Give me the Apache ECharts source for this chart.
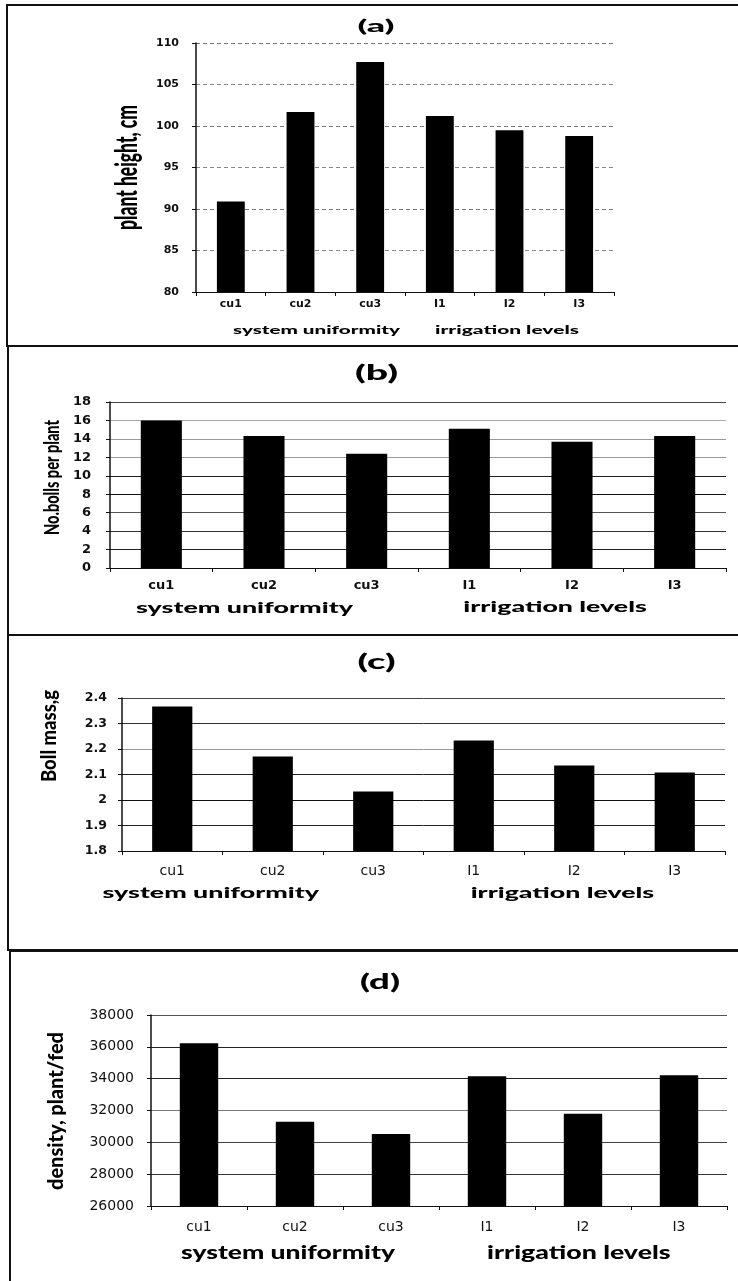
<!DOCTYPE html>
<html>
<head>
<meta charset="utf-8">
<script src="https://cdn.jsdelivr.net/npm/echarts@6/dist/echarts.min.js"></script>
<style>
html,body{margin:0;padding:0;background:#fff;}
#chart{width:738px;height:1281px;}
</style>
</head>
<body>
<div id="chart"></div>
<script>
// ---------------- data ----------------
const categories = ['cu1', 'cu2', 'cu3', 'I1', 'I2', 'I3'];
const plantHeight = [90.9, 101.7, 107.7, 101.2, 99.5, 98.8];
const bollsPerPlant = [16.0, 14.3, 12.4, 15.1, 13.7, 14.3];
const bollMass = [2.367, 2.171, 2.033, 2.233, 2.135, 2.108];
const plantDensity = [36220, 31300, 30520, 34150, 31800, 34210];

const ticksA = [80, 85, 90, 95, 100, 105, 110];
const ticksB = [0, 2, 4, 6, 8, 10, 12, 14, 16, 18];
const ticksC = [1.8, 1.9, 2.0, 2.1, 2.2, 2.3, 2.4];
const ticksD = [26000, 28000, 30000, 32000, 34000, 36000, 38000];

const panelTitles = ['(a)', '(b)', '(c)', '(d)'];
const yNames = ['plant height, cm', 'No.bolls per plant', 'Boll mass,g', 'density, plant/fed'];
const groupNames = ['system uniformity', 'irrigation levels'];

// ---------------- layout ----------------
const grids = [
  {left: 196, top: 43, width: 418, height: 249},
  {left: 110, top: 402, width: 616, height: 166},
  {left: 122, top: 698, width: 603, height: 153},
  {left: 151, top: 1015, width: 576, height: 191}
];
const yLabelStyle = [
  {fontFamily: 'DejaVu Sans', fontWeight: 'bold', fontSize: 11, margin: 17},
  {fontFamily: 'DejaVu Sans', fontWeight: 'bold', fontSize: 13, margin: 19},
  {fontFamily: 'DejaVu Sans', fontWeight: 'bold', fontSize: 12.5, margin: 15},
  {fontFamily: 'DejaVu Sans', fontWeight: 'normal', fontSize: 14, margin: 17}
];
const xLabelStyle = [
  {fontFamily: 'DejaVu Sans', fontWeight: 'bold', fontSize: 11, margin: 7},
  {fontFamily: 'DejaVu Sans', fontWeight: 'bold', fontSize: 13, margin: 11},
  {fontFamily: 'DejaVu Sans', fontWeight: 'normal', fontSize: 14, margin: 13},
  {fontFamily: 'DejaVu Sans', fontWeight: 'normal', fontSize: 14, margin: 14}
];
const splitColors = [
  ['#888', '#888', '#777', '#888', '#777', '#888', '#777'],
  ['#222', '#222', '#333', '#555', '#111', '#222', '#999', '#999', '#aaa', '#444'],
  ['#555', '#222', '#111', '#222', '#999', '#333', '#444'],
  ['#444', '#333', '#444', '#777', '#222', '#222', '#555']
];
const splitTypes = [[4, 3], 'solid', 'solid', 'solid'];

const tickSets = [ticksA, ticksB, ticksC, ticksD];
const seriesData = [plantHeight, bollsPerPlant, bollMass, plantDensity];

// text fitting helper (layout only)
const mctx = document.createElement('canvas').getContext('2d');
function fitScale(text, size, family, weight, target) {
  mctx.font = weight + ' ' + size + 'px ' + family;
  return target / mctx.measureText(text).width;
}
function txt(text, cx, cy, size, target, opts) {
  opts = opts || {};
  const family = opts.family || 'Lato';
  const weight = opts.weight || '900';
  const el = {
    type: 'text', x: cx, y: cy, z: 10,
    scaleX: fitScale(text, size, family, weight, target),
    style: {
      text: text, fontSize: size, fontFamily: family, fontWeight: weight, fill: '#000',
      align: 'center', verticalAlign: 'middle', textAlign: 'center', textVerticalAlign: 'middle'
    }
  };
  if (opts.vertical) el.rotation = Math.PI / 2;
  return el;
}

// panel frames
const frames = [
  {y: 5, h: 341, x: 7},
  {y: 346, h: 289, x: 8},
  {y: 635, h: 315, x: 8},
  {y: 951, h: 360, x: 10}
];
const graphic = [];
frames.forEach(f => graphic.push({
  type: 'rect', shape: {x: f.x, y: f.y, width: 800, height: f.h},
  style: {fill: 'none', stroke: '#111', lineWidth: 2}, z: 1
}));

// titles (a)-(d)
const titlePos = [[376, 27, 16, 37], [376.5, 373, 21, 43], [376.5, 662, 21, 38], [380, 982, 21, 40]];
titlePos.forEach((p, i) => graphic.push(txt(panelTitles[i], p[0], p[1], p[2], p[3])));

// y-axis names (rotated)
const yNamePos = [[127, 167.5, 30, 125], [51.7, 477.5, 21.5, 115], [49.4, 736, 20, 92], [56.5, 1111, 20, 158]];
yNamePos.forEach((p, i) => graphic.push(txt(yNames[i], p[0], p[1], p[2], p[3], {vertical: true})));

// group names under the category axis
const groupPos = [
  [[316.5, 330, 11, 167], [507, 330, 11, 144]],
  [[244.5, 608, 14.5, 217], [555, 607, 14.5, 183.5]],
  [[210.8, 893, 15, 216.5], [562.4, 893, 15, 183.5]],
  [[288, 1253, 18, 214], [578.8, 1253, 18, 183.5]]
];
groupPos.forEach(pair => pair.forEach((p, j) => graphic.push(txt(groupNames[j], p[0], p[1], p[2], p[3]))));

const option = {
  backgroundColor: '#fff',
  animation: false,
  grid: grids.map(g => Object.assign({containLabel: false, outerBoundsMode: 'none'}, g)),
  xAxis: grids.map((g, i) => ({
    type: 'category', gridIndex: i, data: categories, boundaryGap: true,
    axisLine: {show: true, lineStyle: {color: '#111', width: 1}},
    axisTick: {show: true, length: 4, lineStyle: {color: '#111'}},
    axisLabel: {
      color: '#111', fontFamily: xLabelStyle[i].fontFamily, fontWeight: xLabelStyle[i].fontWeight,
      fontSize: xLabelStyle[i].fontSize, margin: xLabelStyle[i].margin
    },
    splitLine: {show: false}
  })),
  yAxis: grids.map((g, i) => {
    const t = tickSets[i];
    return {
      type: 'value', gridIndex: i, min: t[0], max: t[t.length - 1],
      interval: +(t[1] - t[0]).toFixed(6),
      axisLine: {show: true, lineStyle: {color: '#111', width: 1.5}},
      axisTick: {show: true, length: 4, lineStyle: {color: '#111'}},
      axisLabel: {
        color: '#111', fontFamily: yLabelStyle[i].fontFamily, fontWeight: yLabelStyle[i].fontWeight,
        fontSize: yLabelStyle[i].fontSize, margin: yLabelStyle[i].margin,
        formatter: v => String(+v.toFixed(2))
      },
      splitLine: {show: true, lineStyle: {color: splitColors[i], type: splitTypes[i], width: 1}}
    };
  }),
  series: seriesData.map((d, i) => ({
    type: 'bar', xAxisIndex: i, yAxisIndex: i, data: d, barWidth: '40%',
    itemStyle: {color: '#000'}, silent: true
  })),
  graphic: graphic
};

const chart = echarts.init(document.getElementById('chart'), null, {renderer: 'canvas'});
chart.setOption(option);
</script>
</body>
</html>
